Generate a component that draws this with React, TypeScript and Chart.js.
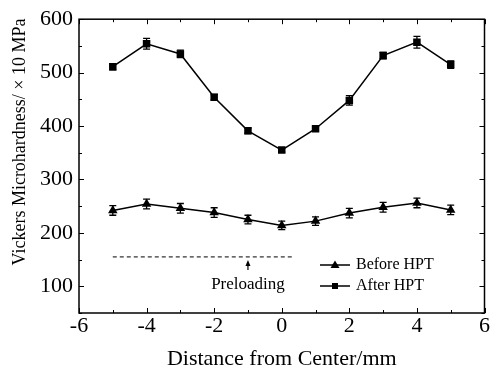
import React, { useEffect, useRef } from "react";
import { Chart, registerables } from "chart.js";

Chart.register(...registerables);

const distances = [-5, -4, -3, -2, -1, 0, 1, 2, 3, 4, 5];
const beforeHPT = [242, 254, 246, 238, 225, 214, 222, 237, 248, 256, 243];
const beforeErr = [9, 9, 9, 9, 8, 8, 8, 9, 9, 9, 9];
const afterHPT = [511, 554, 535, 454, 391, 355, 395, 448, 532, 557, 515];
const afterErr = [6, 10, 7, 5, 5, 4, 4, 9, 6, 11, 7];
const preloadX = [-5, 0.3];
const preloadValue = 155;
const preloadArrowX = -1;
const yTicks = [100, 200, 300, 400, 500, 600];
const yMinorTicks = [50, 150, 250, 350, 450, 550];
const xTicks = [-6, -4, -2, 0, 2, 4, 6];
const xMinorTicks = [-5, -3, -1, 1, 3, 5];

const FONT = "'Liberation Serif', 'Times New Roman', serif";

const customPlugin = {
  id: "custom",
  afterDatasetsDraw(chart: any) {
    const ctx = chart.ctx;
    const xs = chart.scales.x;
    const ys = chart.scales.y;
    const ca = chart.chartArea;
    ctx.save();
    // error bars
    const errs = [beforeErr, afterErr];
    const vals = [beforeHPT, afterHPT];
    ctx.strokeStyle = "#000";
    ctx.lineWidth = 1.3;
    for (let d = 0; d < 2; d++) {
      for (let i = 0; i < distances.length; i++) {
        const px = xs.getPixelForValue(distances[i]);
        const top = ys.getPixelForValue(vals[d][i] + errs[d][i]);
        const bot = ys.getPixelForValue(vals[d][i] - errs[d][i]);
        ctx.beginPath();
        ctx.moveTo(px, top);
        ctx.lineTo(px, bot);
        ctx.moveTo(px - 3.5, top);
        ctx.lineTo(px + 3.5, top);
        ctx.moveTo(px - 3.5, bot);
        ctx.lineTo(px + 3.5, bot);
        ctx.stroke();
      }
    }
    // frame
    ctx.lineWidth = 1.5;
    ctx.strokeRect(ca.left, ca.top, ca.right - ca.left, ca.bottom - ca.top);
    // inward ticks
    ctx.lineWidth = 1;
    ctx.beginPath();
    const tickY = (v: number, len: number) => {
      const py = Math.round(ys.getPixelForValue(v)) + 0.5;
      ctx.moveTo(ca.left, py);
      ctx.lineTo(ca.left + len, py);
      ctx.moveTo(ca.right, py);
      ctx.lineTo(ca.right - len, py);
    };
    const tickX = (v: number, len: number) => {
      const px = Math.round(xs.getPixelForValue(v)) + 0.5;
      ctx.moveTo(px, ca.bottom);
      ctx.lineTo(px, ca.bottom - len);
      ctx.moveTo(px, ca.top);
      ctx.lineTo(px, ca.top + len);
    };
    yTicks.forEach((v) => tickY(v, 5));
    yMinorTicks.forEach((v) => tickY(v, 3));
    xTicks.forEach((v) => tickX(v, 5));
    xMinorTicks.forEach((v) => tickX(v, 3));
    ctx.stroke();

    // preloading arrow + label
    const ax = xs.getPixelForValue(preloadArrowX);
    const ay = ys.getPixelForValue(preloadValue);
    ctx.lineWidth = 1.2;
    ctx.beginPath();
    ctx.moveTo(ax, ay + 13);
    ctx.lineTo(ax, ay + 6);
    ctx.stroke();
    ctx.fillStyle = "#000";
    ctx.beginPath();
    ctx.moveTo(ax, ay + 3);
    ctx.lineTo(ax - 2.5, ay + 9);
    ctx.lineTo(ax + 2.5, ay + 9);
    ctx.closePath();
    ctx.fill();
    ctx.font = `17px ${FONT}`;
    ctx.textAlign = "center";
    ctx.textBaseline = "middle";
    ctx.fillText("Preloading", ax, ay + 28);

    // legend
    const lx0 = 320, lx1 = 350, ly1 = 265, ly2 = 286;
    ctx.lineWidth = 1.5;
    ctx.beginPath();
    ctx.moveTo(lx0, ly1);
    ctx.lineTo(lx1, ly1);
    ctx.moveTo(lx0, ly2);
    ctx.lineTo(lx1, ly2);
    ctx.stroke();
    const mx = (lx0 + lx1) / 2;
    ctx.beginPath();
    ctx.moveTo(mx, ly1 - 4.5);
    ctx.lineTo(mx - 4.5, ly1 + 3);
    ctx.lineTo(mx + 4.5, ly1 + 3);
    ctx.closePath();
    ctx.fill();
    ctx.fillRect(mx - 3, ly2 - 3, 6, 6);
    ctx.font = `16px ${FONT}`;
    ctx.textAlign = "left";
    ctx.fillText("Before HPT", 356, ly1);
    ctx.fillText("After HPT", 356, ly2);

    // y title
    ctx.save();
    ctx.translate(20, 142);
    ctx.rotate(-Math.PI / 2);
    ctx.font = `18px ${FONT}`;
    ctx.textAlign = "center";
    ctx.textBaseline = "middle";
    ctx.fillText("Vickers Microhardness/ \u00D7 10 MPa", 0, 0);
    ctx.restore();
    ctx.restore();
  },
};

export default function App() {
  const ref = useRef<HTMLCanvasElement>(null);
  useEffect(() => {
    if (!ref.current) return;
    const chart = new Chart(ref.current, {
      type: "scatter",
      data: {
        datasets: [
          {
            label: "Before HPT",
            data: distances.map((x, i) => ({ x, y: beforeHPT[i] })),
            showLine: true,
            borderColor: "#000",
            backgroundColor: "#000",
            borderWidth: 1.5,
            pointStyle: "triangle",
            pointRadius: 5.5,
            pointBorderWidth: 0,
          },
          {
            label: "After HPT",
            data: distances.map((x, i) => ({ x, y: afterHPT[i] })),
            showLine: true,
            borderColor: "#000",
            backgroundColor: "#000",
            borderWidth: 1.5,
            pointStyle: "rect",
            pointRadius: 5.3,
            pointBorderWidth: 0,
          },
          {
            label: "Preloading",
            data: preloadX.map((x) => ({ x, y: preloadValue })),
            showLine: true,
            borderColor: "#000",
            borderWidth: 1,
            borderDash: [4, 3],
            pointRadius: 0,
          },
        ],
      },
      options: {
        animation: false,
        responsive: true,
        maintainAspectRatio: false,
        layout: { padding: { top: 19, right: 3, left: 0, bottom: 0 } },
        plugins: { legend: { display: false }, tooltip: { enabled: false } },
        scales: {
          x: {
            type: "linear",
            min: -6,
            max: 6,
            afterBuildTicks: (s: any) => {
              s.ticks = xTicks.map((v) => ({ value: v }));
            },
            afterFit: (s: any) => {
              s.height = 59;
            },
            grid: { display: false, drawTicks: false },
            border: { display: false },
            ticks: {
              color: "#000",
              font: { family: FONT, size: 22 },
              padding: 0,
              maxRotation: 0,
            },
            title: {
              display: true,
              text: "Distance from Center/mm",
              color: "#000",
              font: { family: FONT, size: 22 },
              padding: { top: 0, bottom: 0 },
            },
          },
          y: {
            type: "linear",
            min: 50,
            max: 600,
            afterBuildTicks: (s: any) => {
              s.ticks = yTicks.map((v) => ({ value: v }));
            },
            afterFit: (s: any) => {
              s.width = 79;
            },
            grid: { display: false, drawTicks: false },
            border: { display: false },
            ticks: {
              color: "#000",
              font: { family: FONT, size: 22 },
              padding: 6,
            },
          },
        },
      },
      plugins: [customPlugin],
    });
    return () => chart.destroy();
  }, []);
  return (
    <div style={{ position: "fixed", left: 0, top: 0, width: 490, height: 372 }}>
      <canvas ref={ref} />
    </div>
  );
}
